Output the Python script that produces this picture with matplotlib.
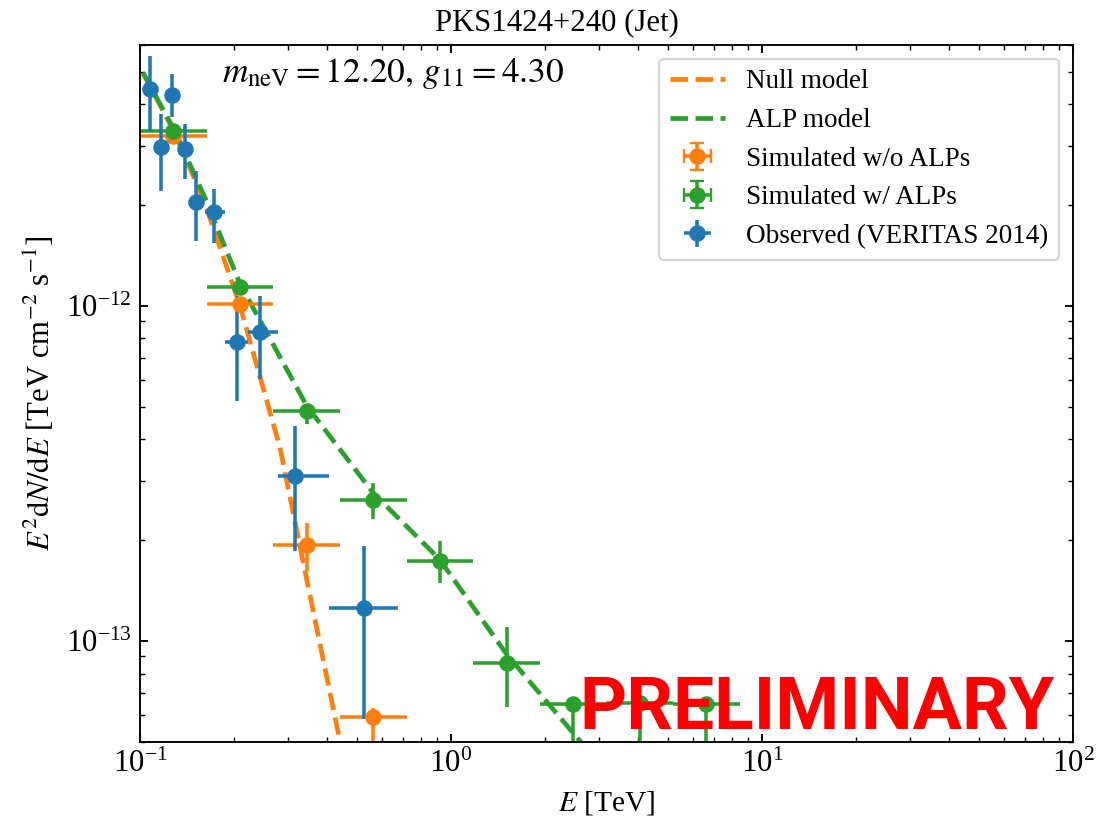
import numpy as np
import matplotlib
matplotlib.use("Agg")
import matplotlib.pyplot as plt

plt.rcParams['font.family'] = ['Liberation Serif', 'DejaVu Serif']
plt.rcParams['mathtext.fontset'] = 'stix'
plt.rcParams['font.size'] = 12

# ---- data ----
# model curves
alp_E = [0.1022, 0.1293, 0.1618, 0.2097, 0.3436, 0.5625, 0.917, 1.51, 2.60, 4.07]
alp_y = [4.96e-12, 3.33e-12, 2.10e-12, 1.163e-12, 5.03e-13, 2.765e-13, 1.757e-13, 9.13e-14, 5.03e-14, 2.94e-14]
null_E = [0.1022, 0.1293, 0.1618, 0.2097, 0.2819, 0.3392, 0.4395, 0.51]
null_y = [4.96e-12, 3.28e-12, 2.02e-12, 1.0e-12, 3.776e-13, 1.618e-13, 5.03e-14, 2.36e-14]

# simulated bins (centers and edges, TeV)
sim_E = [0.128, 0.2096, 0.3434, 0.5623, 0.9211, 1.509, 2.471, 4.047, 6.629]
sim_E_lo = [0.1, 0.1638, 0.2683, 0.4394, 0.7197, 1.179, 1.931, 3.162, 5.179]
sim_E_hi = [0.1638, 0.2683, 0.4394, 0.7197, 1.179, 1.931, 3.162, 5.179, 8.483]

# simulated without ALPs
noalp_y = [3.22e-12, 1.016e-12, 1.93e-13, 5.94e-14]
noalp_y_hi = [3.32e-12, 1.05e-12, 2.25e-13, 6.3e-14]
noalp_y_lo = [3.12e-12, 0.985e-12, 1.618e-13, 1.0e-14]

# simulated with ALPs
alp_pts_y = [3.33e-12, 1.14e-12, 4.86e-13, 2.64e-13, 1.73e-13, 8.6e-14, 6.49e-14, 6.53e-14, 6.5e-14]
alp_pts_y_hi = [3.43e-12, 1.175e-12, 5.09e-13, 2.97e-13, 1.99e-13, 1.10e-13, 6.8e-14, 6.85e-14, 6.8e-14]
alp_pts_y_lo = [3.23e-12, 1.105e-12, 4.43e-13, 2.31e-13, 1.493e-13, 6.35e-14, 1.0e-14, 1.0e-14, 1.0e-14]

# observed (VERITAS 2014)
obs_E = [0.1074, 0.1166, 0.127, 0.1398, 0.151, 0.173, 0.2047, 0.243, 0.315, 0.525]
obs_E_lo = [0.104, 0.113, 0.123, 0.135, 0.146, 0.1614, 0.1877, 0.2230, 0.2785, 0.4062]
obs_E_hi = [0.111, 0.120, 0.131, 0.144, 0.156, 0.187, 0.2230, 0.2772, 0.4052, 0.676]
obs_y = [4.44e-12, 2.97e-12, 4.26e-12, 2.94e-12, 2.04e-12, 1.90e-12, 7.81e-13, 8.36e-13, 3.11e-13, 1.257e-13]
obs_y_hi = [5.57e-12, 3.73e-12, 4.92e-12, 3.49e-12, 2.53e-12, 2.23e-12, 1.071e-12, 1.071e-12, 4.38e-13, 1.92e-13]
obs_y_lo = [3.33e-12, 2.20e-12, 3.65e-12, 2.39e-12, 1.56e-12, 1.545e-12, 5.21e-13, 6.04e-13, 1.857e-13, 5.84e-14]

title = "PKS1424+240 (Jet)"
annot = r"$m_{\rm neV} = 12.20,\, g_{11} = 4.30$"

# ---- figure ----
dpi = 170
fig = plt.figure(figsize=(1113 / dpi, 819 / dpi), dpi=dpi)
ax = fig.add_axes([140 / 1113, 77 / 819, 933 / 1113, 697 / 819])

c_obs, c_null, c_alp = '#1f77b4', '#ff7f0e', '#2ca02c'

ax.plot(null_E, null_y, '--', color=c_null, lw=2, label='Null model')
ax.plot(alp_E, alp_y, '--', color=c_alp, lw=2, label='ALP model')

def asym(vals, lo, hi):
    v = np.array(vals); return [v - np.array(lo), np.array(hi) - v]

n = len(noalp_y)
ax.errorbar(sim_E[:n], noalp_y,
            xerr=asym(sim_E[:n], sim_E_lo[:n], sim_E_hi[:n]),
            yerr=asym(noalp_y, noalp_y_lo, noalp_y_hi),
            fmt='o', color=c_null, capsize=0)
ax.errorbar(sim_E, alp_pts_y,
            xerr=asym(sim_E, sim_E_lo, sim_E_hi),
            yerr=asym(alp_pts_y, alp_pts_y_lo, alp_pts_y_hi),
            fmt='o', color=c_alp, capsize=0)
ax.errorbar(obs_E, obs_y,
            xerr=asym(obs_E, obs_E_lo, obs_E_hi),
            yerr=asym(obs_y, obs_y_lo, obs_y_hi),
            fmt='o', color=c_obs, capsize=0)

# legend proxies (simulated entries shown with caps)
h1 = ax.errorbar([np.nan], [np.nan], xerr=[np.nan], yerr=[np.nan], fmt='o',
                 color=c_null, capsize=3, label='Simulated w/o ALPs')
h2 = ax.errorbar([np.nan], [np.nan], xerr=[np.nan], yerr=[np.nan], fmt='o',
                 color=c_alp, capsize=3, label='Simulated w/ ALPs')
h3 = ax.errorbar([np.nan], [np.nan], xerr=[np.nan], yerr=[np.nan], fmt='o',
                 color=c_obs, capsize=0, label='Observed (VERITAS 2014)')

ax.set_xscale('log')
ax.set_yscale('log')
ax.set_xlim(0.1, 100)
ax.set_ylim(5e-14, 6e-12)
ax.tick_params(which='both', direction='in', top=True, right=True, labelsize=13)
ax.set_xlabel(r"$E$ [TeV]", fontsize=12.5)
ax.set_ylabel(r"$E^2\mathrm{d}N/\mathrm{d}E$ [TeV cm$^{-2}$ s$^{-1}$]", fontsize=13)
fig.text(0.5, 1 - 30 / 819, title, ha='center', va='baseline', fontsize=13)

handles, labels = ax.get_legend_handles_labels()
lines = [h for h, l in zip(handles, labels) if l in ('Null model', 'ALP model')]
ax.legend(lines + [h1, h2, h3],
          ['Null model', 'ALP model', 'Simulated w/o ALPs', 'Simulated w/ ALPs',
           'Observed (VERITAS 2014)'], loc='upper right', fontsize=11.5,
          labelspacing=0.5, handlelength=2.0)

ax.text(0.088, 0.947, annot, transform=ax.transAxes, fontsize=15, va='baseline')
ax.text(0.7256, 0.018, "PRELIMINARY", transform=ax.transAxes, ha='center', va='baseline',
        color='red', fontsize=31, fontweight='bold',
        family=['Roboto', 'Liberation Sans'], zorder=10)

fig.savefig("out.png", dpi=dpi)
